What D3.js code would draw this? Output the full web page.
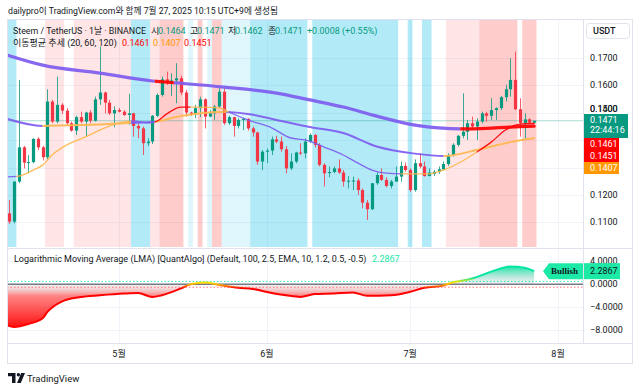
<!DOCTYPE html>
<html><head><meta charset="utf-8">
<script src="https://cdn.jsdelivr.net/npm/d3@7"></script>
<style>
html,body{margin:0;padding:0;background:#fff;}
svg{display:block;font-family:Roboto,"Noto Sans CJK KR",sans-serif;}
</style></head><body>
<svg id="c" width="640" height="390"></svg>
<script>
// ---------------- DATA ----------------
const startDate = Date.UTC(2025, 3, 8); // first daily candle: 2025-04-08
const opens = [0.1133,0.1103,0.1249,0.1374,0.1318,0.1320,0.1405,0.1374,0.1338,0.1541,0.1468,0.1529,0.1508,0.1462,0.1435,0.1484,0.1468,0.1501,0.1471,0.1549,0.1574,0.1537,0.1498,0.1510,0.1504,0.1492,0.1498,0.1452,0.1443,0.1389,0.1395,0.1489,0.1565,0.1622,0.1608,0.1618,0.1626,0.1574,0.1501,0.1496,0.1517,0.1549,0.1486,0.1498,0.1523,0.1577,0.1462,0.1484,0.1452,0.1474,0.1478,0.1443,0.1428,0.1322,0.1358,0.1362,0.1403,0.1395,0.1367,0.1297,0.1322,0.1355,0.1352,0.1395,0.1419,0.1383,0.1310,0.1282,0.1284,0.1297,0.1282,0.1249,0.1252,0.1253,0.1218,0.1172,0.1148,0.1243,0.1273,0.1255,0.1233,0.1249,0.1267,0.1306,0.1291,0.1218,0.1316,0.1304,0.1269,0.1277,0.1285,0.1294,0.1313,0.1346,0.1383,0.1416,0.1431,0.1462,0.1450,0.1468,0.1498,0.1489,0.1510,0.1517,0.1557,0.1586,0.1620,0.1513,0.1462,0.1476,0.1464];
const highs = [0.1182,0.1249,0.1620,0.1379,0.1346,0.1407,0.1411,0.1379,0.1586,0.1547,0.1632,0.1535,0.1517,0.1468,0.1489,0.1504,0.1504,0.1510,0.1559,0.1742,0.1577,0.1547,0.1523,0.1517,0.1510,0.1569,0.1500,0.1462,0.1450,0.1407,0.1492,0.1571,0.1632,0.1650,0.1644,0.1681,0.1635,0.1583,0.1504,0.1529,0.1559,0.1553,0.1510,0.1529,0.1590,0.1590,0.1489,0.1486,0.1480,0.1482,0.1480,0.1450,0.1431,0.1364,0.1370,0.1413,0.1416,0.1413,0.1379,0.1352,0.1358,0.1389,0.1407,0.1425,0.1423,0.1389,0.1316,0.1304,0.1304,0.1330,0.1291,0.1269,0.1267,0.1261,0.1224,0.1182,0.1243,0.1282,0.1297,0.1265,0.1255,0.1304,0.1322,0.1318,0.1297,0.1330,0.1352,0.1322,0.1297,0.1291,0.1304,0.1322,0.1352,0.1389,0.1419,0.1571,0.1474,0.1486,0.1480,0.1504,0.1504,0.1553,0.1520,0.1562,0.1602,0.1699,0.1723,0.1553,0.1498,0.1480,0.1471];
const lows = [0.1094,0.1097,0.1243,0.1297,0.1279,0.1316,0.1364,0.1326,0.1330,0.1462,0.1462,0.1496,0.1456,0.1431,0.1419,0.1462,0.1413,0.1462,0.1468,0.1529,0.1498,0.1492,0.1447,0.1501,0.1489,0.1456,0.1413,0.1407,0.1346,0.1379,0.1386,0.1484,0.1559,0.1602,0.1562,0.1535,0.1565,0.1486,0.1489,0.1480,0.1484,0.1443,0.1484,0.1474,0.1517,0.1456,0.1456,0.1413,0.1443,0.1437,0.1435,0.1413,0.1310,0.1291,0.1316,0.1346,0.1389,0.1358,0.1279,0.1291,0.1316,0.1346,0.1334,0.1389,0.1374,0.1304,0.1231,0.1265,0.1279,0.1277,0.1231,0.1224,0.1218,0.1200,0.1151,0.1109,0.1145,0.1237,0.1252,0.1228,0.1224,0.1249,0.1249,0.1285,0.1212,0.1212,0.1297,0.1267,0.1269,0.1269,0.1277,0.1289,0.1306,0.1340,0.1377,0.1407,0.1401,0.1443,0.1401,0.1462,0.1468,0.1474,0.1474,0.1510,0.1541,0.1559,0.1510,0.1413,0.1407,0.1462,0.1462];
const closes = [0.1103,0.1249,0.1374,0.1318,0.1320,0.1405,0.1374,0.1338,0.1541,0.1468,0.1529,0.1508,0.1462,0.1435,0.1484,0.1468,0.1501,0.1471,0.1549,0.1574,0.1537,0.1498,0.1510,0.1504,0.1492,0.1498,0.1452,0.1443,0.1389,0.1395,0.1489,0.1565,0.1622,0.1608,0.1618,0.1626,0.1574,0.1501,0.1496,0.1517,0.1549,0.1486,0.1498,0.1523,0.1577,0.1462,0.1484,0.1452,0.1474,0.1478,0.1443,0.1428,0.1322,0.1358,0.1362,0.1403,0.1395,0.1367,0.1297,0.1322,0.1355,0.1352,0.1395,0.1419,0.1383,0.1310,0.1279,0.1284,0.1297,0.1282,0.1249,0.1252,0.1253,0.1218,0.1172,0.1148,0.1243,0.1273,0.1255,0.1233,0.1249,0.1267,0.1306,0.1291,0.1218,0.1316,0.1304,0.1269,0.1282,0.1285,0.1294,0.1313,0.1346,0.1383,0.1416,0.1431,0.1462,0.1450,0.1468,0.1498,0.1489,0.1510,0.1517,0.1557,0.1586,0.1620,0.1513,0.1462,0.1476,0.1464,0.1471];

// moving averages (day index, value)
const ma20Days = [-0.5,2,5,7,9,12,16,19,23,26,29,31,33,36,40,44,46,50,55,59,62,66,70,73,76,79,83,88,91,95,98,101,104,107,110];
const ma20Vals = [0.1266,0.1269,0.1291,0.1309,0.1346,0.1382,0.1412,0.1437,0.1463,0.1470,0.1463,0.1470,0.1496,0.1521,0.1521,0.1518,0.1503,0.1474,0.1445,0.1408,0.1401,0.1375,0.1346,0.1317,0.1291,0.1280,0.1277,0.1277,0.1291,0.1324,0.1357,0.1393,0.1437,0.1459,0.1461];
const ma60Days = [-0.5,7,15,25,30,36,44,50,56,63,70,77,85,91,98,105,110];
const ma60Vals = [0.1478,0.1452,0.1455,0.1463,0.1466,0.1488,0.1503,0.1496,0.1474,0.1448,0.1426,0.1377,0.1351,0.1342,0.1364,0.1393,0.1407];
const ma120Days = [-0.5,7,19,30,35,45,56,63,70,77,85,90,95,100,105,110];
const ma120Vals = [0.1711,0.1674,0.1645,0.1616,0.1609,0.1594,0.1572,0.1547,0.1521,0.1488,0.1455,0.1445,0.1441,0.1443,0.1448,0.1451];
// trend colour states of each MA: [fromDay, toDay, state]
const ma20States = [[-0.5,1.5,"down"],[1.5,25.5,"up"],[25.5,30.5,"down"],[30.5,38,"strong"],[38,46,"up"],[46,82,"down"],[82,98,"up"],[98,110.5,"strong"]];
const ma60States = [[-0.5,7,"down"],[7,25.5,"up"],[25.5,30.5,"down"],[30.5,45.5,"up"],[45.5,91,"down"],[91,110.5,"up"]];
const ma120States = [[-0.5,30.5,"down"],[30.5,34.5,"strong"],[34.5,94.5,"down"],[94.5,110.5,"strong"]];

// background regime bands: [fromDay, toDay, regime]
const bandFrom = [-0.5,7.5,13.5,25.5,29.5,31.5,37.5,39.5,41.5,42.5,44.5,50.5,63.5,83.5,86.5,91.5,98.5,107.5];
const bandTo   = [1.5,11.5,25.5,29.5,31.5,36.5,38.5,40.5,42.5,44.5,50.5,62.5,81.5,84.5,88.5,98.5,106.5,110.5];
const bandType = ["bear","bullW","bullW","bear","bullW","bull","bearW","bull","bearW","bull","bearW","bear","bear","bear","bear","bullW","bull","bull"];

// Logarithmic Moving Average oscillator
const lmaDays = [-0.5,1,4,7,8,11,15,19,24,27,30,32,36,38,41,44,48,51,55,58,61,64,68,72,75,80,84,87,91,93,97,101,105,108,110];
const lmaVals = [-7.1,-7.4,-6.9,-5.9,-4.8,-3.0,-2.2,-1.9,-1.6,-1.5,-2.2,-1.9,-0.7,0,0.3,-0.1,-0.6,-0.8,-1.5,-1.9,-2.2,-1.7,-1.6,-1.4,-2.0,-1.9,-1.3,-0.6,-0.2,0.35,1.0,2.2,3.1,2.9,2.2867];

const priceTicks = [0.11,0.12,0.13,0.14,0.15,0.16,0.17];
const lmaTicks = [4,0,-4,-8];
const lastClose = 0.1471, lastOpen = 0.1464, lastHigh = 0.1471, lastLow = 0.1462;
const maLast = [0.1461, 0.1407, 0.1451];
const lmaLast = 2.2867;

// ---------------- LAYOUT ----------------
const plotL = 7, plotR = 583, axisR = 632;
const mainT = 19, mainB = 247, subT = 249, subB = 343, timeB = 363;
const DAY = 864e5;
const dayDate = d => new Date(startDate + d * DAY);
const UP = "#089981", DOWN = "#F23645";
const TXT = "#131722";
const maColor = {down: "#7E5BEF", up: "#FFB74D", strong: "#FF0000"};
const bandColor = {bear: "rgba(0,188,230,0.30)", bearW: "rgba(0,188,230,0.13)", bull: "rgba(255,0,0,0.20)", bullW: "rgba(255,0,0,0.10)"};

const svg = d3.select("#c");
const defs = svg.append("defs");
svg.append("rect").attr("width",640).attr("height",390).attr("fill","#fff");

const x = d3.scaleUtc().domain([new Date(Date.UTC(2025,4,1)), new Date(Date.UTC(2025,7,1))]).range([119,558]);
const xd = d => x(dayDate(d));
const y = d3.scaleLinear().domain([0.10102, 0.18423]).range([mainB, mainT]);
const ys = d3.scaleLinear().domain([-10.2, 6.14]).range([subB, subT]);

defs.append("clipPath").attr("id","mainClip").append("rect").attr("x",plotL).attr("y",mainT).attr("width",plotR-plotL).attr("height",mainB-mainT);
defs.append("clipPath").attr("id","subClip").append("rect").attr("x",plotL).attr("y",subT).attr("width",plotR-plotL).attr("height",subB-subT);

// grid
const monthTicks = x.ticks(d3.utcMonth.every(1));
const grid = svg.append("g").attr("stroke","#f0f3fa").attr("stroke-width",1);
priceTicks.forEach(p => grid.append("line").attr("x1",plotL).attr("x2",plotR).attr("y1",Math.round(y(p))+0.5).attr("y2",Math.round(y(p))+0.5));
lmaTicks.forEach(v => grid.append("line").attr("x1",plotL).attr("x2",plotR).attr("y1",Math.round(ys(v))+0.5).attr("y2",Math.round(ys(v))+0.5));
monthTicks.forEach(m => grid.append("line").attr("x1",Math.round(x(m))+0.5).attr("x2",Math.round(x(m))+0.5).attr("y1",mainT).attr("y2",subB));

// bands
const main = svg.append("g").attr("clip-path","url(#mainClip)");
main.selectAll("rect.band").data(d3.range(bandFrom.length)).join("rect")
  .attr("x", i => xd(bandFrom[i])).attr("width", i => xd(bandTo[i]) - xd(bandFrom[i]))
  .attr("y", mainT).attr("height", mainB - mainT).attr("fill", i => bandColor[bandType[i]]);

// last price line
main.append("line").attr("x1",plotL).attr("x2",plotR).attr("y1",y(lastClose)).attr("y2",y(lastClose))
  .attr("stroke",UP).attr("stroke-opacity",0.35).attr("stroke-width",1);

// candles
const idx = d3.range(closes.length);
const bw = 3.2;
main.selectAll("line.wick").data(idx).join("line")
  .attr("x1", i => Math.round(xd(i))+0.5).attr("x2", i => Math.round(xd(i))+0.5)
  .attr("y1", i => y(highs[i])).attr("y2", i => y(lows[i]))
  .attr("stroke", i => closes[i] >= opens[i] ? UP : DOWN).attr("stroke-width",1).attr("stroke-opacity",0.8);
main.selectAll("rect.body").data(idx).join("rect")
  .attr("x", i => Math.round(xd(i))+0.5 - bw/2).attr("width", bw)
  .attr("y", i => y(Math.max(opens[i], closes[i])))
  .attr("height", i => Math.max(1, Math.abs(y(opens[i]) - y(closes[i]))))
  .attr("fill", i => closes[i] >= opens[i] ? UP : DOWN);

// MAs
function drawMA(days, vals, states, width, id) {
  const pts = days.map((d,i) => [xd(d), y(vals[i])]);
  const path = d3.line().curve(d3.curveMonotoneX)(pts);
  states.forEach((s,k) => {
    const cid = id + k;
    defs.append("clipPath").attr("id",cid).append("rect")
      .attr("x", xd(s[0])).attr("width", xd(s[1]) - xd(s[0])).attr("y", mainT).attr("height", mainB-mainT);
    main.append("path").attr("d", path).attr("clip-path", `url(#${cid})`)
      .attr("fill","none").attr("stroke", maColor[s[2]]).attr("stroke-width", width)
      .attr("stroke-linecap","round").attr("stroke-opacity", 0.92);
  });
}
drawMA(ma120Days, ma120Vals, ma120States, 3.2, "m120_");
drawMA(ma60Days, ma60Vals, ma60States, 2, "m60_");
drawMA(ma20Days, ma20Vals, ma20States, 1.3, "m20_");

// ---------- sub pane ----------
const sub = svg.append("g").attr("clip-path","url(#subClip)");
const z0 = ys(0);
const gTop = 3.2, gBot = -7.5;
const off = v => (ys(v) - ys(gTop)) / (ys(gBot) - ys(gTop));
const gF = defs.append("linearGradient").attr("id","lmaFill").attr("gradientUnits","userSpaceOnUse")
  .attr("x1",0).attr("x2",0).attr("y1",ys(gTop)).attr("y2",ys(gBot));
[[gTop,"#00E6A0",0.95],[0,"#c8c9cf",0.22],[-2,"#ff3030",0.6],[gBot,"#ff0000",0.95]].forEach(s =>
  gF.append("stop").attr("offset",off(s[0])).attr("stop-color",s[1]).attr("stop-opacity",s[2]));
const gS = defs.append("linearGradient").attr("id","lmaStroke").attr("gradientUnits","userSpaceOnUse")
  .attr("x1",0).attr("x2",0).attr("y1",ys(1.2)).attr("y2",ys(-1.2));
[[0,"#00E6A0"],[0.35,"#FFE600"],[0.55,"#FFA000"],[0.78,"#FF0000"],[1,"#FF0000"]].forEach(s =>
  gS.append("stop").attr("offset",s[0]).attr("stop-color",s[1]));
const lmaPts = lmaDays.map((d,i) => ({x: xd(d), v: lmaVals[i]}));
sub.append("path").datum(lmaPts)
  .attr("d", d3.area().curve(d3.curveMonotoneX).x(d=>d.x).y0(z0).y1(d=>ys(d.v)))
  .attr("fill","url(#lmaFill)");
sub.append("line").attr("x1",plotL).attr("x2",plotR).attr("y1",ys(0.5)).attr("y2",ys(0.5))
  .attr("stroke","#00E6A0").attr("stroke-dasharray","1.5,2").attr("stroke-opacity",0.8);
sub.append("line").attr("x1",plotL).attr("x2",plotR).attr("y1",ys(-0.5)).attr("y2",ys(-0.5))
  .attr("stroke","#FF5252").attr("stroke-dasharray","1.5,2").attr("stroke-opacity",0.8);
sub.append("line").attr("x1",plotL).attr("x2",plotR).attr("y1",z0).attr("y2",z0)
  .attr("stroke","#787B86").attr("stroke-width",1.5);
sub.append("path").datum(lmaPts)
  .attr("d", d3.line().curve(d3.curveMonotoneX).x(d=>d.x).y(d=>ys(d.v)))
  .attr("fill","none").attr("stroke","url(#lmaStroke)").attr("stroke-width",2);

// Bullish label
const by = ys(lmaLast);
svg.append("path").attr("d",`M543,${by} L549,${by-8} L584,${by-8} L584,${by+8} L549,${by+8} Z`).attr("fill","#1DE9A6");
svg.append("text").attr("x",551).attr("y",by+3.2).attr("font-family","'Liberation Serif',serif").attr("font-weight","bold")
  .attr("font-size",9).attr("fill",TXT).text("Bullish");

// ---------- frame ----------
const fr = svg.append("g").attr("stroke","#e0e3eb").attr("fill","none");
fr.append("rect").attr("x",plotL+0.5).attr("y",mainT+0.5).attr("width",axisR-plotL).attr("height",timeB-mainT);
fr.append("line").attr("x1",plotL).attr("x2",axisR).attr("y1",248.5).attr("y2",248.5);
fr.append("line").attr("x1",plotL).attr("x2",axisR).attr("y1",subB+0.5).attr("y2",subB+0.5);
fr.append("line").attr("x1",plotR+0.5).attr("x2",plotR+0.5).attr("y1",mainT).attr("y2",subB);

// ---------- price labels (stacked) ----------
const fmt4 = d3.format(".4f");
const labels = [
  {v:lastClose, lines:[fmt4(lastClose),"22:44:16"], color:UP, w:44},
  {v:maLast[0], lines:[fmt4(maLast[0])], color:"#FF0000", w:35},
  {v:maLast[2], lines:[fmt4(maLast[2])], color:"#FF0000", w:35},
  {v:maLast[1], lines:[fmt4(maLast[1])], color:"#FF9800", w:35}
].sort((a,b) => b.v - a.v);
let prevB = -1e9;
labels.forEach(l => {
  const h = 12 * l.lines.length;
  l.top = Math.round(Math.max(y(l.v) - 6.5, prevB));
  l.bot = l.top + h;
  prevB = l.bot;
});

// ---------- axes ----------
const ax = svg.append("g").attr("font-size",9).attr("fill",TXT);
priceTicks.forEach(p => {
  let yc = y(p);
  let hide = false;
  labels.forEach(l => {
    const ov = Math.min(yc + 4.5, l.bot) - Math.max(yc - 4.5, l.top);
    if (ov > 0) { if (ov < 4) yc = l.top - 5; else hide = true; }
  });
  if (!hide) ax.append("text").attr("x",590).attr("y",Math.round(yc+3)).text(fmt4(p));
});
lmaTicks.forEach(v => ax.append("text").attr("x",590).attr("y",Math.round(ys(v)+3)).text(fmt4(v).replace("-","\u2212")));
monthTicks.forEach(m => ax.append("text").attr("x",x(m)).attr("y",357).attr("text-anchor","middle").text((m.getUTCMonth()+1)+"월"));

labels.forEach(l => {
  svg.append("rect").attr("x",584).attr("y",l.top).attr("width",l.w).attr("height",l.bot-l.top).attr("fill",l.color);
  l.lines.forEach((t,k) => svg.append("text").attr("x",590).attr("y",l.top + 9 + 10*k).attr("font-size",9).attr("fill","#fff").text(t));
});
// LMA value label
svg.append("rect").attr("x",584).attr("y",by-8).attr("width",36).attr("height",16).attr("fill","#1DE9A6");
svg.append("text").attr("x",590).attr("y",by+3).attr("font-size",9).attr("fill",TXT).text(fmt4(lmaLast));

// USDT box
svg.append("rect").attr("x",586.5).attr("y",23.5).attr("width",43).attr("height",15).attr("rx",3)
  .attr("fill","#fff").attr("stroke","#e0e3eb");
svg.append("text").attr("x",593).attr("y",34).attr("font-size",9).attr("font-weight",500).attr("fill",TXT).text("USDT");

// ---------- legends ----------
svg.append("text").attr("x",8).attr("y",14).attr("font-size",9).attr("fill",TXT)
  .attr("textLength",270).attr("lengthAdjust","spacingAndGlyphs")
  .text("dailypro이 TradingView.com와 함께 7월 27, 2025 10:15 UTC+9에 생성됨");
const lg = svg.append("g").attr("font-size",9);
lg.append("text").attr("x",13).attr("y",34).attr("fill",TXT)
  .attr("textLength",133).attr("lengthAdjust","spacingAndGlyphs").text("Steem / TetherUS · 1날 · BINANCE");
[["시",151,lastOpen],["고",190,lastHigh],["저",228,lastLow],["종",268,lastClose]].forEach(o => {
  lg.append("text").attr("x",o[1]).attr("y",34).attr("fill",TXT).text(o[0]);
  lg.append("text").attr("x",o[1]+7).attr("y",34).attr("fill",UP).text(fmt4(o[2]));
});
lg.append("text").attr("x",307).attr("y",34).attr("fill",UP).text("+0.0008 (+0.55%)");
lg.append("text").attr("x",13).attr("y",46).attr("fill",TXT).text("이동평균 추세 (20, 60, 120)");
[[122,maLast[0],"#FF0000"],[153,maLast[1],"#FF9800"],[184,maLast[2],"#FF0000"]].forEach(o =>
  lg.append("text").attr("x",o[0]).attr("y",46).attr("fill",o[2]).text(fmt4(o[1])));
lg.append("text").attr("x",14).attr("y",262).attr("fill",TXT)
  .text("Logarithmic Moving Average (LMA) [QuantAlgo] (Default, 100, 2.5, EMA, 10, 1.2, 0.5, -0.5)");
lg.append("text").attr("x",372).attr("y",262).attr("fill","#1DE9A6").text(fmt4(lmaLast));

// ---------- TradingView logo ----------
const logo = svg.append("g").attr("fill",TXT);
logo.append("path").attr("d","M8,373 H15.5 V383 H12 V376.3 H8 Z");
logo.append("circle").attr("cx",18.4).attr("cy",374.8).attr("r",1.7);
logo.append("path").attr("d","M21.2,373 H25 L20.8,383 H17 Z");
svg.append("text").attr("x",27).attr("y",382).attr("font-size",9.5).attr("fill",TXT).text("TradingView");
</script>
</body></html>
